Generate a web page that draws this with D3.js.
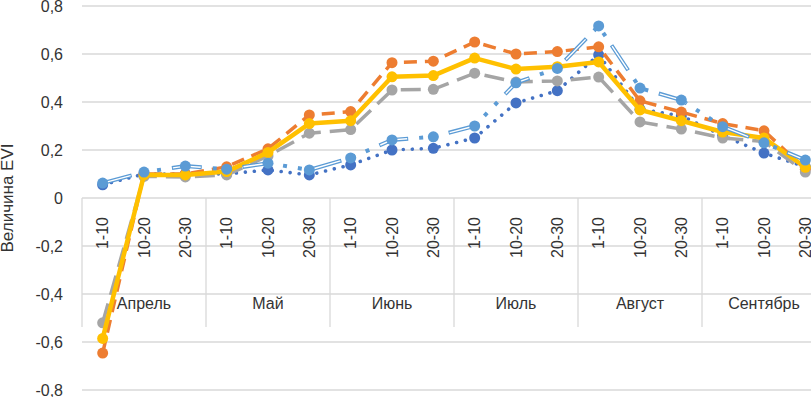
<!DOCTYPE html>
<html>
<head>
<meta charset="utf-8">
<script src="https://cdn.jsdelivr.net/npm/d3@7"></script>
<style>
body { margin: 0; background: #fff; }
svg { display: block; font-family: "Liberation Sans", Arial, sans-serif; }
.grid line { stroke: #d9d9d9; stroke-width: 1.3; }
.axis text { fill: #333; font-size: 16px; }
</style>
</head>
<body>
<svg id="chart" width="811" height="397"></svg>

<script>

/// data
var months = ["Апрель", "Май", "Июнь", "Июль", "Август", "Сентябрь"];
var periods = ["1-10", "10-20", "20-30"];
var yTicks = [-0.8, -0.6, -0.4, -0.2, 0, 0.2, 0.4, 0.6, 0.8];
var yTickLabels = ["-0,8", "-0,6", "-0,4", "-0,2", "0", "0,2", "0,4", "0,6", "0,8"];
var yTitle = "Величина EVI";

var serBlue   = [0.055, 0.10, 0.10, 0.10, 0.117, 0.096, 0.138, 0.20, 0.207, 0.25, 0.396, 0.447, 0.596, 0.37, 0.342, 0.26, 0.187, 0.13];
var serOrange = [-0.646, 0.10, 0.10, 0.13, 0.205, 0.346, 0.36, 0.564, 0.57, 0.65, 0.60, 0.61, 0.63, 0.405, 0.358, 0.31, 0.28, 0.12];
var serGray   = [-0.52, 0.09, 0.088, 0.096, 0.175, 0.27, 0.285, 0.45, 0.453, 0.52, 0.483, 0.488, 0.504, 0.317, 0.287, 0.25, 0.235, 0.108];
var serYellow = [-0.585, 0.096, 0.096, 0.11, 0.19, 0.31, 0.322, 0.505, 0.51, 0.583, 0.537, 0.547, 0.567, 0.367, 0.322, 0.275, 0.25, 0.128];
var serLight  = [0.062, 0.108, 0.133, 0.12, 0.145, 0.117, 0.167, 0.242, 0.255, 0.30, 0.48, 0.54, 0.717, 0.458, 0.408, 0.297, 0.23, 0.158];

/// one entry per category: month + period
var cats = [];
months.forEach(function(m){ periods.forEach(function(p){ cats.push({month: m, period: p}); }); });
var idx = cats.map(function(d,i){ return i; });

var series = [
    {values: serBlue,   color: "#4472c4", kind: "dot"},
    {values: serOrange, color: "#ed7d31", kind: "dash"},
    {values: serGray,   color: "#a5a5a5", kind: "longdash"},
    {values: serYellow, color: "#ffc000", kind: "solid"},
    {values: serLight,  color: "#5b9bd5", kind: "double"}
];

var svg = d3.select("#chart");
var pl = 82, pr = 826, pt = 6, pb = 390;

var x = d3.scaleBand().domain(idx).range([pl, pr]);
var y = d3.scaleLinear().domain([-0.8, 0.8]).range([pb, pt]);
var monthX = d3.scaleBand().domain(months).range([pl, pr]);

/// gridlines
svg.append("g").attr("class", "grid")
  .selectAll("line").data(yTicks).enter().append("line")
    .attr("x1", pl).attr("x2", pr)
    .attr("y1", function(d){ return y(d); })
    .attr("y2", function(d){ return y(d); });

/// y axis labels
var yAxis = d3.axisLeft(y).tickValues(yTicks).tickSize(0).tickPadding(19)
    .tickFormat(function(d,i){ return yTickLabels[i]; });
svg.append("g").attr("class", "axis")
    .attr("transform", "translate(" + pl + ",0)")
    .call(yAxis)
    .call(function(g){ g.select(".domain").remove(); })
  .selectAll("text").attr("font-size", 16).attr("font-family", null);

/// axis title
svg.append("text")
    .attr("transform", "translate(13," + y(0) + ") rotate(-90)")
    .attr("text-anchor", "middle")
    .attr("font-size", 17).attr("fill", "#333")
    .text(yTitle);

/// category axis: periods (rotated)
var xAxis = d3.axisBottom(x).tickSize(0).tickPadding(0)
    .tickFormat(function(i){ return cats[i].period; });
var xa = svg.append("g").attr("class", "axis")
    .attr("transform", "translate(0," + y(0) + ")")
    .call(xAxis)
    .call(function(g){ g.select(".domain").remove(); });
xa.selectAll("text")
    .attr("font-size", 16).attr("font-family", null)
    .attr("text-anchor", "end")
    .attr("y", 0).attr("x", -19).attr("dy", "0.35em")
    .attr("transform", "rotate(-90)");

/// category axis: months
var ma = svg.append("g").attr("class", "axis")
    .attr("transform", "translate(0," + y(0) + ")")
    .call(d3.axisBottom(monthX).tickSize(0).tickPadding(0))
    .call(function(g){ g.select(".domain").remove(); });
ma.selectAll("text").attr("font-size", 16).attr("font-family", null)
    .attr("y", 111).attr("dy", 0);

/// group separators
svg.append("g").attr("class", "grid")
  .selectAll("line").data(d3.range(months.length + 1)).enter().append("line")
    .attr("x1", function(k){ return pl + k * monthX.bandwidth(); })
    .attr("x2", function(k){ return pl + k * monthX.bandwidth(); })
    .attr("y1", y(0)).attr("y2", y(0) + 129);

/// lines + markers
var line = d3.line()
    .x(function(d,i){ return x(i) + x.bandwidth() / 2; })
    .y(function(d){ return y(d); });

series.forEach(function(s){
    var g = svg.append("g");
    var p = g.append("path").datum(s.values)
        .attr("d", line).attr("fill", "none").attr("stroke", s.color);
    if (s.kind == "solid") p.attr("stroke-width", 4.5).attr("stroke-linejoin", "round");
    if (s.kind == "dash") p.attr("stroke-width", 3.5).attr("stroke-dasharray", "13,8");
    if (s.kind == "longdash") p.attr("stroke-width", 3.5).attr("stroke-dasharray", "20,9");
    if (s.kind == "dot") p.attr("stroke-width", 3.6).attr("stroke-linecap", "round").attr("stroke-dasharray", "0.01,9");
    if (s.kind == "double") {
        p.attr("stroke-width", 4).attr("stroke-dasharray", "30,11,4,11,4,11");
        /// white core makes the dash look like a double line
        g.append("path").datum(s.values)
            .attr("d", line).attr("fill", "none").attr("stroke", "#fff")
            .attr("stroke-width", 1.4).attr("stroke-dasharray", "28,43").attr("stroke-dashoffset", -1);
    }
    g.selectAll("circle").data(s.values).enter().append("circle")
        .attr("cx", function(d,i){ return x(i) + x.bandwidth() / 2; })
        .attr("cy", function(d){ return y(d); })
        .attr("r", 5.5)
        .attr("fill", s.color);
});

</script>
</body>
</html>
